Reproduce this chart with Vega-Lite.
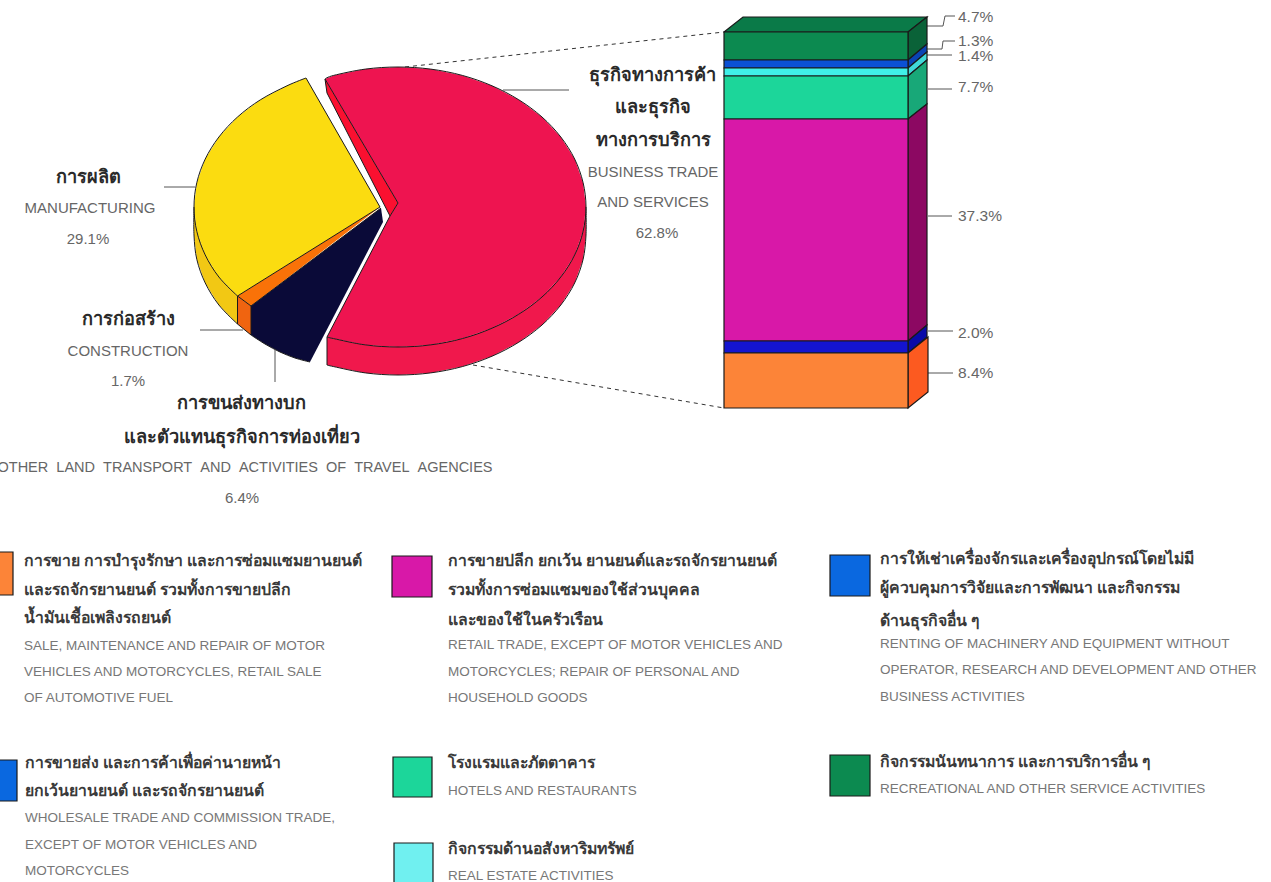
{"$schema":"https://vega.github.io/schema/vega-lite/v6.json","width":1271,"height":882,"padding":0,"autosize":{"type":"none"},"background":"white","config":{"view":{"stroke":null}},
"datasets":{
"pie":[
{"p":"redSide","i":0,"x":586,"y":207},{"p":"redSide","i":1,"x":583.1,"y":231.3},{"p":"redSide","i":2,"x":574.7,"y":254.9},{"p":"redSide","i":3,"x":560.8,"y":277},{"p":"redSide","i":4,"x":542,"y":297},{"p":"redSide","i":5,"x":518.8,"y":314.2},{"p":"redSide","i":6,"x":492,"y":328.2},{"p":"redSide","i":7,"x":462.3,"y":338.6},{"p":"redSide","i":8,"x":430.6,"y":344.9},{"p":"redSide","i":9,"x":398,"y":347},{"p":"redSide","i":10,"x":365.4,"y":344.9},{"p":"redSide","i":11,"x":333.7,"y":338.6},{"p":"redSide","i":12,"x":327,"y":337},{"p":"redSide","i":13,"x":327,"y":365},{"p":"redSide","i":14,"x":333.7,"y":366.6},{"p":"redSide","i":15,"x":365.4,"y":372.9},{"p":"redSide","i":16,"x":398,"y":375},{"p":"redSide","i":17,"x":430.6,"y":372.9},{"p":"redSide","i":18,"x":462.3,"y":366.6},{"p":"redSide","i":19,"x":492,"y":356.2},{"p":"redSide","i":20,"x":518.8,"y":342.2},{"p":"redSide","i":21,"x":542,"y":325},{"p":"redSide","i":22,"x":560.8,"y":305},{"p":"redSide","i":23,"x":574.7,"y":282.9},{"p":"redSide","i":24,"x":583.1,"y":259.3},{"p":"redSide","i":25,"x":586,"y":235},{"p":"redSide","i":26,"x":586,"y":207},
{"p":"redCut","i":0,"x":325,"y":79},{"p":"redCut","i":1,"x":398,"y":203},{"p":"redCut","i":2,"x":390,"y":216},{"p":"redCut","i":3,"x":327,"y":93},{"p":"redCut","i":4,"x":325,"y":79},
{"p":"redTop","i":0,"x":325,"y":79},{"p":"redTop","i":1,"x":333.7,"y":75.4},{"p":"redTop","i":2,"x":365.4,"y":69.1},{"p":"redTop","i":3,"x":398,"y":67},{"p":"redTop","i":4,"x":430.6,"y":69.1},{"p":"redTop","i":5,"x":462.3,"y":75.4},{"p":"redTop","i":6,"x":492,"y":85.8},{"p":"redTop","i":7,"x":518.8,"y":99.8},{"p":"redTop","i":8,"x":542,"y":117},{"p":"redTop","i":9,"x":560.8,"y":137},{"p":"redTop","i":10,"x":574.7,"y":159.1},{"p":"redTop","i":11,"x":583.1,"y":182.7},{"p":"redTop","i":12,"x":586,"y":207},{"p":"redTop","i":13,"x":583.1,"y":231.3},{"p":"redTop","i":14,"x":574.7,"y":254.9},{"p":"redTop","i":15,"x":560.8,"y":277},{"p":"redTop","i":16,"x":542,"y":297},{"p":"redTop","i":17,"x":518.8,"y":314.2},{"p":"redTop","i":18,"x":492,"y":328.2},{"p":"redTop","i":19,"x":462.3,"y":338.6},{"p":"redTop","i":20,"x":430.6,"y":344.9},{"p":"redTop","i":21,"x":398,"y":347},{"p":"redTop","i":22,"x":365.4,"y":344.9},{"p":"redTop","i":23,"x":333.7,"y":338.6},{"p":"redTop","i":24,"x":327,"y":337},{"p":"redTop","i":25,"x":390,"y":216},{"p":"redTop","i":26,"x":398,"y":203},{"p":"redTop","i":27,"x":325,"y":79},
{"p":"yellowSide","i":0,"x":194,"y":207},{"p":"yellowSide","i":1,"x":196.8,"y":231.3},{"p":"yellowSide","i":2,"x":205.2,"y":254.9},{"p":"yellowSide","i":3,"x":218.9,"y":277},{"p":"yellowSide","i":4,"x":237.5,"y":296},{"p":"yellowSide","i":5,"x":237.5,"y":324},{"p":"yellowSide","i":6,"x":218.9,"y":305},{"p":"yellowSide","i":7,"x":205.2,"y":282.9},{"p":"yellowSide","i":8,"x":196.8,"y":259.3},{"p":"yellowSide","i":9,"x":194,"y":235},{"p":"yellowSide","i":10,"x":194,"y":207},
{"p":"yellowTop","i":0,"x":380,"y":207},{"p":"yellowTop","i":1,"x":306,"y":78},{"p":"yellowTop","i":2,"x":287,"y":85.8},{"p":"yellowTop","i":3,"x":260.4,"y":99.8},{"p":"yellowTop","i":4,"x":237.5,"y":117},{"p":"yellowTop","i":5,"x":218.9,"y":137},{"p":"yellowTop","i":6,"x":205.2,"y":159.1},{"p":"yellowTop","i":7,"x":196.8,"y":182.7},{"p":"yellowTop","i":8,"x":194,"y":207},{"p":"yellowTop","i":9,"x":196.8,"y":231.3},{"p":"yellowTop","i":10,"x":205.2,"y":254.9},{"p":"yellowTop","i":11,"x":218.9,"y":277},{"p":"yellowTop","i":12,"x":237.5,"y":296},{"p":"yellowTop","i":13,"x":380,"y":207},
{"p":"orangeSide","i":0,"x":237.5,"y":296},{"p":"orangeSide","i":1,"x":244,"y":301},{"p":"orangeSide","i":2,"x":251,"y":306},{"p":"orangeSide","i":3,"x":251,"y":335},{"p":"orangeSide","i":4,"x":237.5,"y":324},{"p":"orangeSide","i":5,"x":237.5,"y":296},
{"p":"orangeTop","i":0,"x":380,"y":207},{"p":"orangeTop","i":1,"x":237.5,"y":296},{"p":"orangeTop","i":2,"x":244,"y":301},{"p":"orangeTop","i":3,"x":251,"y":306},{"p":"orangeTop","i":4,"x":380,"y":207},
{"p":"navy","i":0,"x":381,"y":208},{"p":"navy","i":1,"x":251,"y":306},{"p":"navy","i":2,"x":251,"y":335},{"p":"navy","i":3,"x":265,"y":344},{"p":"navy","i":4,"x":280,"y":352},{"p":"navy","i":5,"x":295,"y":358},{"p":"navy","i":6,"x":310,"y":362},{"p":"navy","i":7,"x":383,"y":222},{"p":"navy","i":8,"x":381,"y":208}
],
"edges":[
{"g":"redTopArc","i":0,"x":325,"y":79},{"g":"redTopArc","i":1,"x":333.7,"y":75.4},{"g":"redTopArc","i":2,"x":365.4,"y":69.1},{"g":"redTopArc","i":3,"x":398,"y":67},{"g":"redTopArc","i":4,"x":430.6,"y":69.1},{"g":"redTopArc","i":5,"x":462.3,"y":75.4},{"g":"redTopArc","i":6,"x":492,"y":85.8},{"g":"redTopArc","i":7,"x":518.8,"y":99.8},{"g":"redTopArc","i":8,"x":542,"y":117},{"g":"redTopArc","i":9,"x":560.8,"y":137},{"g":"redTopArc","i":10,"x":574.7,"y":159.1},{"g":"redTopArc","i":11,"x":583.1,"y":182.7},{"g":"redTopArc","i":12,"x":586,"y":207},{"g":"redTopArc","i":13,"x":583.1,"y":231.3},{"g":"redTopArc","i":14,"x":574.7,"y":254.9},{"g":"redTopArc","i":15,"x":560.8,"y":277},{"g":"redTopArc","i":16,"x":542,"y":297},{"g":"redTopArc","i":17,"x":518.8,"y":314.2},{"g":"redTopArc","i":18,"x":492,"y":328.2},{"g":"redTopArc","i":19,"x":462.3,"y":338.6},{"g":"redTopArc","i":20,"x":430.6,"y":344.9},{"g":"redTopArc","i":21,"x":398,"y":347},{"g":"redTopArc","i":22,"x":365.4,"y":344.9},{"g":"redTopArc","i":23,"x":333.7,"y":338.6},{"g":"redTopArc","i":24,"x":327,"y":337},
{"g":"redBottomArc","i":0,"x":586,"y":207},{"g":"redBottomArc","i":1,"x":586,"y":235},{"g":"redBottomArc","i":2,"x":583.1,"y":259.3},{"g":"redBottomArc","i":3,"x":574.7,"y":282.9},{"g":"redBottomArc","i":4,"x":560.8,"y":305},{"g":"redBottomArc","i":5,"x":542,"y":325},{"g":"redBottomArc","i":6,"x":518.8,"y":342.2},{"g":"redBottomArc","i":7,"x":492,"y":356.2},{"g":"redBottomArc","i":8,"x":462.3,"y":366.6},{"g":"redBottomArc","i":9,"x":430.6,"y":372.9},{"g":"redBottomArc","i":10,"x":398,"y":375},{"g":"redBottomArc","i":11,"x":365.4,"y":372.9},{"g":"redBottomArc","i":12,"x":333.7,"y":366.6},{"g":"redBottomArc","i":13,"x":327,"y":365},
{"g":"redFront","i":0,"x":327,"y":337},{"g":"redFront","i":1,"x":327,"y":365},
{"g":"redCut1","i":0,"x":325,"y":79},{"g":"redCut1","i":1,"x":398,"y":203},
{"g":"redCut2","i":0,"x":398,"y":203},{"g":"redCut2","i":1,"x":390,"y":216},
{"g":"redCut3","i":0,"x":390,"y":216},{"g":"redCut3","i":1,"x":327,"y":93},
{"g":"redCut4","i":0,"x":327,"y":93},{"g":"redCut4","i":1,"x":325,"y":79},
{"g":"redCut5","i":0,"x":390,"y":216},{"g":"redCut5","i":1,"x":327,"y":337},
{"g":"yellowArc","i":0,"x":306,"y":78},{"g":"yellowArc","i":1,"x":287,"y":85.8},{"g":"yellowArc","i":2,"x":260.4,"y":99.8},{"g":"yellowArc","i":3,"x":237.5,"y":117},{"g":"yellowArc","i":4,"x":218.9,"y":137},{"g":"yellowArc","i":5,"x":205.2,"y":159.1},{"g":"yellowArc","i":6,"x":196.8,"y":182.7},{"g":"yellowArc","i":7,"x":194,"y":207},{"g":"yellowArc","i":8,"x":196.8,"y":231.3},{"g":"yellowArc","i":9,"x":205.2,"y":254.9},{"g":"yellowArc","i":10,"x":218.9,"y":277},{"g":"yellowArc","i":11,"x":237.5,"y":296},
{"g":"yellowBottomArc","i":0,"x":194,"y":207},{"g":"yellowBottomArc","i":1,"x":194,"y":235},{"g":"yellowBottomArc","i":2,"x":196.8,"y":259.3},{"g":"yellowBottomArc","i":3,"x":205.2,"y":282.9},{"g":"yellowBottomArc","i":4,"x":218.9,"y":305},{"g":"yellowBottomArc","i":5,"x":237.5,"y":324},
{"g":"yellow1","i":0,"x":380,"y":207},{"g":"yellow1","i":1,"x":306,"y":78},
{"g":"yellow2","i":0,"x":380,"y":207},{"g":"yellow2","i":1,"x":237.5,"y":296},
{"g":"yellow3","i":0,"x":237.5,"y":296},{"g":"yellow3","i":1,"x":237.5,"y":324},
{"g":"orange1","i":0,"x":237.5,"y":296},{"g":"orange1","i":1,"x":251,"y":306},
{"g":"orange2","i":0,"x":251,"y":306},{"g":"orange2","i":1,"x":251,"y":335},
{"g":"orange3","i":0,"x":237.5,"y":324},{"g":"orange3","i":1,"x":251,"y":335},
{"g":"orange4","i":0,"x":381,"y":208},{"g":"orange4","i":1,"x":251,"y":306},
{"g":"navyArc","i":0,"x":251,"y":335},{"g":"navyArc","i":1,"x":265,"y":344},{"g":"navyArc","i":2,"x":280,"y":352},{"g":"navyArc","i":3,"x":295,"y":358},{"g":"navyArc","i":4,"x":310,"y":362}
],
"barSides":[
{"p":"greenTop","i":0,"x":724,"y":32},{"p":"greenTop","i":1,"x":743,"y":17},{"p":"greenTop","i":2,"x":927,"y":17},{"p":"greenTop","i":3,"x":908,"y":32},{"p":"greenTop","i":4,"x":724,"y":32},
{"p":"greenSide","i":0,"x":908,"y":32},{"p":"greenSide","i":1,"x":927,"y":17},{"p":"greenSide","i":2,"x":927,"y":44},{"p":"greenSide","i":3,"x":908,"y":60},{"p":"greenSide","i":4,"x":908,"y":32},
{"p":"blueSide","i":0,"x":908,"y":60},{"p":"blueSide","i":1,"x":927,"y":44},{"p":"blueSide","i":2,"x":927,"y":52},{"p":"blueSide","i":3,"x":908,"y":68},{"p":"blueSide","i":4,"x":908,"y":60},
{"p":"cyanSide","i":0,"x":908,"y":68},{"p":"cyanSide","i":1,"x":927,"y":52},{"p":"cyanSide","i":2,"x":927,"y":60},{"p":"cyanSide","i":3,"x":908,"y":76},{"p":"cyanSide","i":4,"x":908,"y":68},
{"p":"tealSide","i":0,"x":908,"y":76},{"p":"tealSide","i":1,"x":927,"y":60},{"p":"tealSide","i":2,"x":927,"y":104},{"p":"tealSide","i":3,"x":908,"y":119},{"p":"tealSide","i":4,"x":908,"y":76},
{"p":"magentaSide","i":0,"x":908,"y":119},{"p":"magentaSide","i":1,"x":927,"y":104},{"p":"magentaSide","i":2,"x":927,"y":325},{"p":"magentaSide","i":3,"x":908,"y":341},{"p":"magentaSide","i":4,"x":908,"y":119},
{"p":"deepBlueSide","i":0,"x":908,"y":341},{"p":"deepBlueSide","i":1,"x":927,"y":325},{"p":"deepBlueSide","i":2,"x":927,"y":337},{"p":"deepBlueSide","i":3,"x":908,"y":353},{"p":"deepBlueSide","i":4,"x":908,"y":341},
{"p":"barOrangeSide","i":0,"x":908,"y":353},{"p":"barOrangeSide","i":1,"x":928,"y":337},{"p":"barOrangeSide","i":2,"x":928,"y":392},{"p":"barOrangeSide","i":3,"x":908,"y":408},{"p":"barOrangeSide","i":4,"x":908,"y":353}
],
"rects":[
{"p":"green","pct":4.7,"x":724,"x2":908,"y":32,"y2":60},
{"p":"blue","pct":1.3,"x":724,"x2":908,"y":60,"y2":68},
{"p":"cyan","pct":1.4,"x":724,"x2":908,"y":68,"y2":76},
{"p":"teal","pct":7.7,"x":724,"x2":908,"y":76,"y2":119},
{"p":"magenta","pct":37.3,"x":724,"x2":908,"y":119,"y2":341},
{"p":"deepBlue","pct":2.0,"x":724,"x2":908,"y":341,"y2":353},
{"p":"barOrange","pct":8.4,"x":724,"x2":908,"y":353,"y2":408},
{"p":"barOrange","x":-10,"x2":13,"y":552,"y2":595},
{"p":"legendBlue","x":-10,"x2":17,"y":760,"y2":801},
{"p":"magenta","x":392,"x2":432,"y":556,"y2":597},
{"p":"teal","x":393,"x2":432,"y":757,"y2":797},
{"p":"cyanLight","x":394,"x2":433,"y":843,"y2":890},
{"p":"legendBlue","x":830,"x2":870,"y":555,"y2":596},
{"p":"green","x":830,"x2":870,"y":755,"y2":796}
],
"leaders":[
{"g":"a","i":0,"x":503,"y":90},{"g":"a","i":1,"x":569,"y":90},
{"g":"b","i":0,"x":164,"y":187},{"g":"b","i":1,"x":195,"y":187},
{"g":"c","i":0,"x":200,"y":330},{"g":"c","i":1,"x":243,"y":330},
{"g":"d","i":0,"x":275,"y":350},{"g":"d","i":1,"x":275,"y":382},
{"g":"e","i":0,"x":927,"y":26},{"g":"e","i":1,"x":943,"y":26},{"g":"e","i":2,"x":945,"y":16},{"g":"e","i":3,"x":955,"y":16},
{"g":"f","i":0,"x":927,"y":49},{"g":"f","i":1,"x":942,"y":49},{"g":"f","i":2,"x":943,"y":41},{"g":"f","i":3,"x":955,"y":41},
{"g":"h","i":0,"x":927,"y":55},{"g":"h","i":1,"x":952,"y":55},
{"g":"j","i":0,"x":928,"y":89},{"g":"j","i":1,"x":952,"y":89},
{"g":"k","i":0,"x":928,"y":216},{"g":"k","i":1,"x":952,"y":216},
{"g":"l","i":0,"x":928,"y":331},{"g":"l","i":1,"x":953,"y":331},
{"g":"m","i":0,"x":928,"y":373},{"g":"m","i":1,"x":953,"y":373}
],
"dashes":[
{"g":"top","i":0,"x":405,"y":67},{"g":"top","i":1,"x":724,"y":32},
{"g":"bottom","i":0,"x":473,"y":365},{"g":"bottom","i":1,"x":724,"y":408}
],
"thaiCenter":[
{"t":"ธุรกิจทางการค้า","x":652,"y":74},{"t":"และธุรกิจ","x":653,"y":106},{"t":"ทางการบริการ","x":653,"y":139},
{"t":"การผลิต","x":88,"y":176},{"t":"การก่อสร้าง","x":128,"y":318},{"t":"การขนส่งทางบก","x":241,"y":402},{"t":"และตัวแทนธุรกิจการท่องเที่ยว","x":242,"y":436}
],
"engCenter":[
{"t":"BUSINESS TRADE","x":653,"y":172},{"t":"AND SERVICES","x":653,"y":202},{"t":"62.8%","x":657,"y":233},
{"t":"MANUFACTURING","x":90,"y":208},{"t":"29.1%","x":88,"y":239},
{"t":"CONSTRUCTION","x":128,"y":351},{"t":"1.7%","x":128,"y":381},{"t":"6.4%","x":242,"y":498}
],
"engWide":[
{"t":"OTHER\u00a0\u00a0LAND\u00a0\u00a0TRANSPORT\u00a0\u00a0AND\u00a0\u00a0ACTIVITIES\u00a0\u00a0OF\u00a0\u00a0TRAVEL\u00a0\u00a0AGENCIES","x":245,"y":468}
],
"pct":[
{"t":"4.7%","x":958,"y":17},{"t":"1.3%","x":958,"y":41},{"t":"1.4%","x":958,"y":56},{"t":"7.7%","x":958,"y":87},{"t":"37.3%","x":958,"y":216},{"t":"2.0%","x":958,"y":333},{"t":"8.4%","x":958,"y":373}
],
"thaiLeft":[
{"t":"การขาย การบำรุงรักษา และการซ่อมแซมยานยนต์","x":24,"y":560},{"t":"และรถจักรยานยนต์ รวมทั้งการขายปลีก","x":24,"y":589},{"t":"น้ำมันเชื้อเพลิงรถยนต์","x":24,"y":617},
{"t":"การขายส่ง และการค้าเพื่อค่านายหน้า","x":25,"y":762},{"t":"ยกเว้นยานยนต์ และรถจักรยานยนต์","x":25,"y":790},
{"t":"การขายปลีก ยกเว้น ยานยนต์และรถจักรยานยนต์","x":448,"y":560},{"t":"รวมทั้งการซ่อมแซมของใช้ส่วนบุคคล","x":448,"y":589},{"t":"และของใช้ในครัวเรือน","x":448,"y":619},
{"t":"โรงแรมและภัตตาคาร","x":448,"y":762},{"t":"กิจกรรมด้านอสังหาริมทรัพย์","x":448,"y":848},
{"t":"การให้เช่าเครื่องจักรและเครื่องอุปกรณ์โดยไม่มี","x":880,"y":558},{"t":"ผู้ควบคุมการวิจัยและการพัฒนา และกิจกรรม","x":880,"y":587},{"t":"ด้านธุรกิจอื่น ๆ","x":880,"y":620},
{"t":"กิจกรรมนันทนาการ และการบริการอื่น ๆ","x":880,"y":761}
],
"engLeft":[
{"t":"SALE, MAINTENANCE AND REPAIR OF MOTOR","x":24,"y":646},{"t":"VEHICLES AND MOTORCYCLES, RETAIL SALE","x":24,"y":672},{"t":"OF AUTOMOTIVE FUEL","x":24,"y":698},
{"t":"WHOLESALE TRADE AND COMMISSION TRADE,","x":25,"y":818},{"t":"EXCEPT OF MOTOR VEHICLES AND","x":25,"y":845},{"t":"MOTORCYCLES","x":25,"y":871},
{"t":"RETAIL TRADE, EXCEPT OF MOTOR VEHICLES AND","x":448,"y":645},{"t":"MOTORCYCLES; REPAIR OF PERSONAL AND","x":448,"y":672},{"t":"HOUSEHOLD GOODS","x":448,"y":698},
{"t":"HOTELS AND RESTAURANTS","x":448,"y":791},{"t":"REAL ESTATE  ACTIVITIES","x":448,"y":876},
{"t":"RENTING OF MACHINERY  AND EQUIPMENT WITHOUT","x":880,"y":644},{"t":"OPERATOR, RESEARCH AND DEVELOPMENT AND OTHER","x":880,"y":670},{"t":"BUSINESS ACTIVITIES","x":880,"y":697},
{"t":"RECREATIONAL AND OTHER SERVICE ACTIVITIES","x":880,"y":789}
]
},
"encoding":{
"x":{"field":"x","type":"quantitative","axis":null,"scale":{"domain":[0,1271],"range":[0,1271],"nice":false,"zero":false}},
"y":{"field":"y","type":"quantitative","axis":null,"scale":{"domain":[0,882],"range":[0,882],"nice":false,"zero":false}}
},
"layer":[
{"data":{"name":"dashes"},"mark":{"type":"line","stroke":"#333","strokeWidth":1,"strokeDash":[4,4]},"encoding":{"detail":{"field":"g"},"order":{"field":"i"}}},
{"data":{"name":"leaders"},"mark":{"type":"line","stroke":"#555","strokeWidth":1},"encoding":{"detail":{"field":"g"},"order":{"field":"i"}}},
{"data":{"name":"pie"},"mark":{"type":"line","strokeWidth":0},"encoding":{"fill":{"field":"p","type":"nominal","legend":null,"scale":{"domain":["redSide","redCut","redTop","yellowSide","yellowTop","orangeSide","orangeTop","navy","greenTop","greenSide","blueSide","cyanSide","tealSide","magentaSide","deepBlueSide","barOrangeSide","green","blue","cyan","teal","magenta","deepBlue","barOrange","legendBlue","cyanLight"],"range":["#F0184C","#FA1030","#EE1450","#F2C814","#FBDC10","#F06410","#F97208","#0A0A38","#0A7A48","#0A6238","#0A44B4","#40D8D8","#18A878","#8C0862","#0A0AA8","#FC5A20","#0C8A50","#0B50D4","#40F0E8","#1CD69A","#D818A8","#1414D0","#FC8438","#0A68E0","#70F0F0"]}},"order":{"field":"i"}}},
{"data":{"name":"edges"},"mark":{"type":"line","stroke":"#1a1a1a","strokeWidth":1,"interpolate":"cardinal"},"encoding":{"detail":{"field":"g"},"order":{"field":"i"}}},
{"data":{"name":"barSides"},"mark":{"type":"line","stroke":"#1a1a1a","strokeWidth":1.2,"strokeJoin":"miter"},"encoding":{"fill":{"field":"p","type":"nominal","legend":null},"order":{"field":"i"}}},
{"data":{"name":"rects"},"mark":{"type":"rect","stroke":"#1a1a1a","strokeWidth":1.2},"encoding":{"x2":{"field":"x2"},"y2":{"field":"y2"},"fill":{"field":"p","type":"nominal","legend":null}}},
{"data":{"name":"thaiCenter"},"mark":{"type":"text","font":"Noto Sans","fontSize":18.2,"fontWeight":"bold","fill":"#2a2a2a","align":"center","baseline":"middle","dy":1.5},"encoding":{"text":{"field":"t"}}},
{"data":{"name":"thaiLeft"},"mark":{"type":"text","font":"Noto Sans","fontSize":15.8,"fontWeight":"bold","fill":"#3a3a3a","align":"left","baseline":"middle","dy":0.5},"encoding":{"text":{"field":"t"}}},
{"data":{"name":"engCenter"},"mark":{"type":"text","font":"Liberation Sans","fontSize":15,"fill":"#666","align":"center","baseline":"middle"},"encoding":{"text":{"field":"t"}}},
{"data":{"name":"engWide"},"mark":{"type":"text","font":"Liberation Sans","fontSize":14.5,"fill":"#666","align":"center","baseline":"middle"},"encoding":{"text":{"field":"t"}}},
{"data":{"name":"engLeft"},"mark":{"type":"text","font":"Liberation Sans","fontSize":13.5,"fill":"#777","align":"left","baseline":"middle"},"encoding":{"text":{"field":"t"}}},
{"data":{"name":"pct"},"mark":{"type":"text","font":"Liberation Sans","fontSize":15.5,"fill":"#666","align":"left","baseline":"middle"},"encoding":{"text":{"field":"t"}}}
]}
